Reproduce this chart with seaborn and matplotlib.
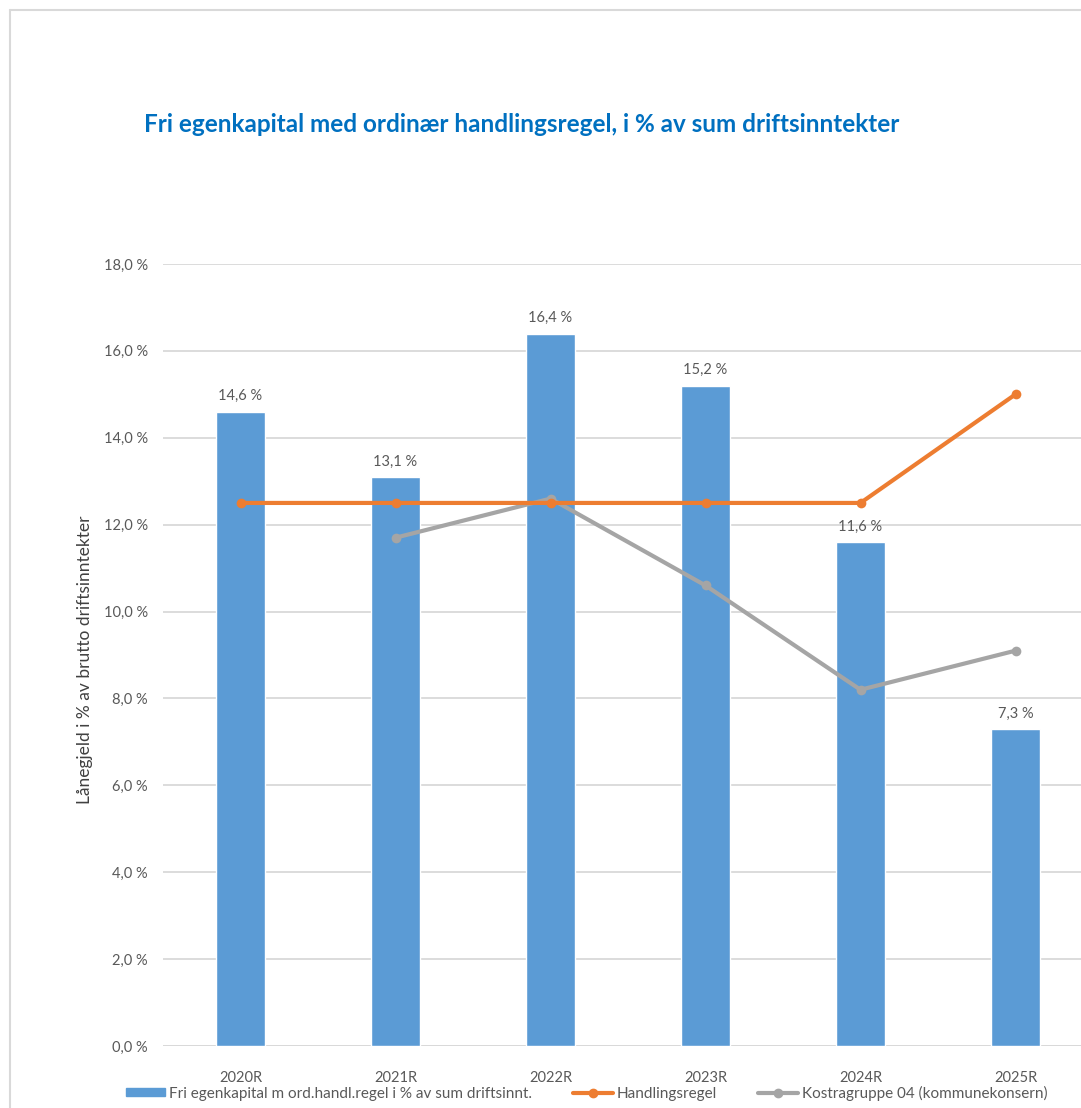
import numpy as np
import pandas as pd
import matplotlib
matplotlib.use("Agg")
import matplotlib.pyplot as plt
from matplotlib.lines import Line2D
from matplotlib.patches import Patch
import seaborn as sns

years = ["2020R", "2021R", "2022R", "2023R", "2024R", "2025R"]
fri_egenkapital = [14.6, 13.1, 16.4, 15.2, 11.6, 7.3]
handlingsregel = [12.5, 12.5, 12.5, 12.5, 12.5, 15.0]
kostra = [np.nan, 11.7, 12.6, 10.6, 8.2, 9.1]
yticks = [0, 2, 4, 6, 8, 10, 12, 14, 16, 18]

title = "Fri egenkapital med ordinær handlingsregel, i % av sum driftsinntekter"
ylabel = "Lånegjeld i % av brutto driftsinntekter"
leg_labels = ["Fri egenkapital m ord.handl.regel i % av sum driftsinnt.",
              "Handlingsregel", "Kostragruppe 04 (kommunekonsern)"]

BLUE = "#5B9BD5"
ORANGE = "#ED7D31"
GRAY = "#A5A5A5"
TXT = "#595959"
GRID = "#D9D9D9"

sns.set_theme(style="white")
plt.rcParams["font.family"] = ["Lato", "DejaVu Sans"]

W, H = 1081, 1108
fig = plt.figure(figsize=(W / 100, H / 100), dpi=100)

def fx(px):
    return px / W

def fy(py):
    return 1 - py / H

left, right, top, bottom = 163, 1081, 264, 1046
ax = fig.add_axes([fx(left), fy(bottom), fx(right - left), (bottom - top) / H])

df = pd.DataFrame({"year": years, "fri": fri_egenkapital,
                   "handl": handlingsregel, "kostra": kostra})
df["pos"] = np.arange(len(years))

sns.barplot(data=df, x="year", y="fri", color=BLUE, width=0.31,
            saturation=1, ax=ax, zorder=2)
sns.lineplot(data=df, x="pos", y="kostra", color=GRAY, linewidth=3,
             marker="o", markersize=7, markeredgewidth=0, ax=ax, zorder=3)
sns.lineplot(data=df, x="pos", y="handl", color=ORANGE, linewidth=3,
             marker="o", markersize=7, markeredgewidth=0, ax=ax, zorder=4)

ax.set_xlim(-0.5, (right - left) / 155 - 0.5)
ax.set_ylim(0, 18)
ax.set_yticks(yticks)
ax.set_yticklabels([f"{v:.1f} %".replace(".", ",") for v in yticks],
                   fontsize=10.5, color=TXT)
ax.set_xticks(range(len(years)))
ax.set_xticklabels(years, fontsize=10.5, color=TXT)
ax.tick_params(axis="y", length=0, pad=11)
ax.tick_params(axis="x", length=0, pad=18)
ax.set_xlabel("")
ax.set_ylabel("")
ax.grid(axis="y", color=GRID, linewidth=1.3, zorder=0)
ax.set_axisbelow(True)
for s in ax.spines.values():
    s.set_visible(False)
ax.axhline(0, color=GRID, linewidth=1.3, zorder=1)

for i, v in enumerate(fri_egenkapital):
    ax.annotate(f"{v:.1f} %".replace(".", ","), (i, v), xytext=(0, 6),
                textcoords="offset points", ha="center", va="bottom",
                fontsize=10.5, color=TXT)

fig.text(fx(144), fy(125), title, fontsize=17.5, fontweight="bold",
         color="#0070C0", ha="left", va="center")
fig.text(fx(85), fy(660), ylabel, rotation=90, fontsize=12.5, color="#404040",
         ha="center", va="center")

# outer frame lines
fig.add_artist(Line2D([fx(10), 1], [fy(10), fy(10)], color=GRID, linewidth=1.5))
fig.add_artist(Line2D([fx(10), fx(10)], [fy(10), 0], color=GRID, linewidth=1.5))

handles = [Patch(facecolor=BLUE, edgecolor=BLUE),
           Line2D([], [], color=ORANGE, linewidth=3, marker="o", markersize=6),
           Line2D([], [], color=GRAY, linewidth=3, marker="o", markersize=6)]
fig.legend(handles, leg_labels, loc="center left", bbox_to_anchor=(fx(118), fy(1093)),
           ncol=3, frameon=False, fontsize=11, labelcolor=TXT, borderpad=0,
           handlelength=2.6, handleheight=0.5, handletextpad=0.25,
           columnspacing=2.7)

fig.savefig("out.png", dpi=100, facecolor="white")
